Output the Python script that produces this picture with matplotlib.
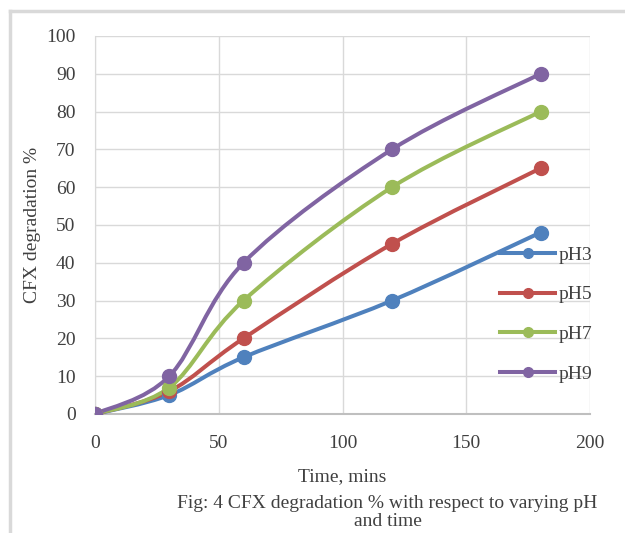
import numpy as np
import matplotlib.pyplot as plt
from matplotlib.path import Path
from matplotlib.patches import PathPatch
from matplotlib.lines import Line2D

# degradation (%) of CFX against time for each pH
time_min = [0, 30, 60, 120, 180]
ph3 = [0, 5, 15, 30, 48]
ph5 = [0, 6, 20, 45, 65]
ph7 = [0, 7, 30, 60, 80]
ph9 = [0, 10, 40, 70, 90]
labels = ['pH3', 'pH5', 'pH7', 'pH9']
colors = ['#4f81bd', '#c0504d', '#9bbb59', '#8064a2']

plt.rcParams['font.family'] = ['Liberation Serif', 'DejaVu Serif']
txt = '#404040'
fs = 14

def smooth_path(x, y):
    # Catmull-Rom through the points, written as cubic Bezier segments
    p = np.column_stack([x, y]).astype(float)
    verts = [p[0]]
    codes = [Path.MOVETO]
    n = len(p)
    for i in range(n - 1):
        p0 = p[i - 1] if i > 0 else p[i]
        p3 = p[i + 2] if i + 2 < n else p[i + 1]
        c1 = p[i] + (p[i + 1] - p0) / 6
        c2 = p[i + 1] - (p3 - p[i]) / 6
        verts += [c1, c2, p[i + 1]]
        codes += [Path.CURVE4] * 3
    return Path(verts, codes)

fig = plt.figure(figsize=(6.25, 5.33), dpi=100)
ax = fig.add_axes([0.152, 0.2233, 0.792, 0.7092])

for ys, c in zip([ph3, ph5, ph7, ph9], colors):
    ax.add_patch(PathPatch(smooth_path(time_min, ys), facecolor='none',
                           edgecolor=c, lw=2.9, zorder=3, capstyle='round'))
    ax.plot(time_min, ys, 'o', color=c, ms=10, zorder=4)

ax.set_xlim(0, 200)
ax.set_ylim(0, 100)
ax.set_xticks(range(0, 201, 50))
ax.set_yticks(range(0, 101, 10))
ax.grid(True, color='#d9d9d9', lw=1)
ax.set_axisbelow(True)
for s in ['top', 'right']:
    ax.spines[s].set_visible(False)
ax.spines['left'].set_color('#d9d9d9')
ax.spines['bottom'].set_color('#bfbfbf')
ax.spines['bottom'].set_linewidth(1.5)
ax.tick_params(axis='y', length=0, labelsize=fs, colors=txt, pad=14)
ax.tick_params(axis='x', length=0, labelsize=fs, colors=txt, pad=15)

ax.set_xlabel('Time, mins', fontsize=fs, color=txt, labelpad=12)
ax.set_ylabel('CFX degradation %', fontsize=fs, color=txt, labelpad=4)

handles = [Line2D([], [], color=c, lw=2.9, marker='o', ms=7) for c in colors]
ax.legend(handles, labels, loc='upper left', bbox_to_anchor=(0.818, 0.444),
          frameon=False, fontsize=fs, labelspacing=1.13, handlelength=2.85,
          handletextpad=0.15, labelcolor=txt, borderaxespad=0, borderpad=0)

fig.text(0.62, 0.0385, 'Fig: 4 CFX degradation % with respect to varying pH\nand time',
         ha='center', va='center', fontsize=fs, color=txt, linespacing=1.15)

# outer chart frame
fig.add_artist(Line2D([0.0165, 0.0165], [0, 0.979], color='#d9d9d9', lw=2.5))
fig.add_artist(Line2D([0.0165, 1], [0.979, 0.979], color='#d9d9d9', lw=2.5))

fig.savefig('out.png', dpi=100)
